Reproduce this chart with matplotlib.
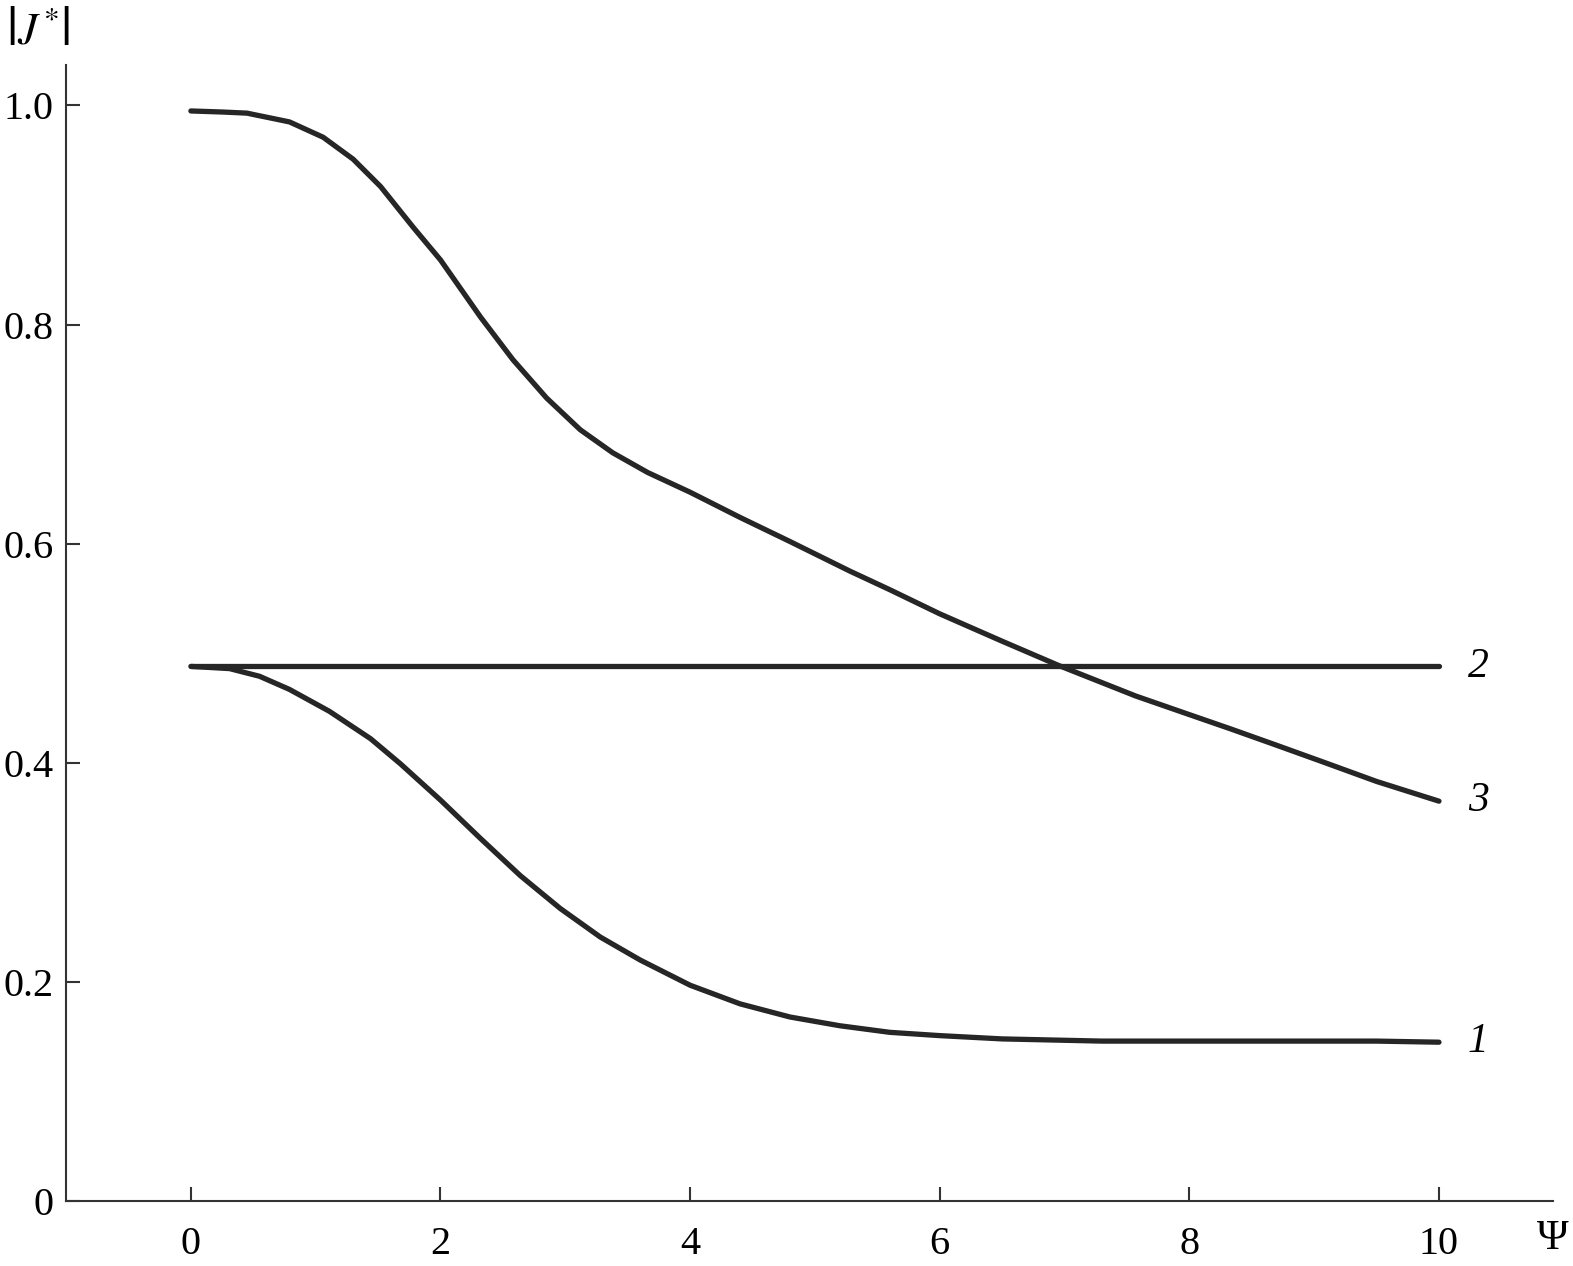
import numpy as np
import matplotlib.pyplot as plt

plt.rcParams['font.family'] = ['Liberation Serif', 'DejaVu Serif']
plt.rcParams['mathtext.fontset'] = 'stix'

# Data
psi3 = [0, 0.26, 0.45, 0.79, 1.06, 1.30, 1.52, 1.78, 2.0, 2.32, 2.58, 2.85, 3.12,
        3.38, 3.66, 4.0, 4.4, 4.8, 5.28, 5.6, 6.0, 6.5, 6.95, 7.57, 8.0, 8.33,
        8.7, 9.09, 9.5, 10.0]
j3 = [0.995, 0.994, 0.993, 0.985, 0.971, 0.951, 0.926, 0.889, 0.859, 0.807, 0.768,
      0.733, 0.704, 0.683, 0.665, 0.647, 0.624, 0.602, 0.575, 0.558, 0.536, 0.511,
      0.489, 0.461, 0.444, 0.431, 0.416, 0.400, 0.383, 0.365]

psi2 = [0, 10]
j2 = [0.488, 0.488]

psi1 = [0, 0.31, 0.55, 0.79, 1.11, 1.44, 1.68, 2.0, 2.32, 2.64, 2.96, 3.28, 3.6,
        4.0, 4.4, 4.8, 5.2, 5.6, 6.0, 6.5, 7.3, 8.1, 8.9, 9.5, 10.0]
j1 = [0.488, 0.486, 0.479, 0.467, 0.447, 0.422, 0.399, 0.366, 0.331, 0.297, 0.267,
      0.241, 0.220, 0.197, 0.180, 0.168, 0.160, 0.154, 0.151, 0.148, 0.146, 0.146,
      0.146, 0.146, 0.145]

curve_labels = ['1', '2', '3']

xticks = [0, 2, 4, 6, 8, 10]
yticks = [0, 0.2, 0.4, 0.6, 0.8, 1.0]
ytick_labels = ['0', '0.2', '0.4', '0.6', '0.8', '1.0']

fig = plt.figure(figsize=(15.73, 12.66), dpi=100)
ax = fig.add_axes([0.042, 0.0513, 0.945, 0.8974])

col = '#262626'
for x, y in [(psi1, j1), (psi2, j2), (psi3, j3)]:
    ax.plot(x, y, color=col, linewidth=3.8, solid_capstyle='round',
            solid_joinstyle='round')

for lab, x, y in zip(curve_labels, [psi1, psi2, psi3], [j1, j2, j3]):
    ax.text(x[-1] + 0.23, y[-1], lab, fontsize=30, style='italic',
            va='center', ha='left', color='black')

ax.set_xlim(-1.0, 10.91)
ax.set_ylim(0, 1.037)
ax.set_xticks(xticks)
ax.set_xticklabels([str(t) for t in xticks])
ax.set_yticks(yticks)
ax.set_yticklabels(ytick_labels)

ax.spines['top'].set_visible(False)
ax.spines['right'].set_visible(False)
for s in ['left', 'bottom']:
    ax.spines[s].set_linewidth(1.5)
    ax.spines[s].set_color('#333333')

ax.tick_params(direction='in', length=10, width=1.5, labelsize=29,
               color='#333333')
ax.tick_params(axis='y', pad=9)
ax.tick_params(axis='x', pad=18)

fig.text(0.004, 0.992, r'$\left|\mathit{J}\,^{*}\right|$', fontsize=32,
         va='top', ha='left')
fig.text(0.997, 0.0213, 'Ψ', fontsize=31, va='center', ha='right')

fig.savefig('out.png', dpi=100)
